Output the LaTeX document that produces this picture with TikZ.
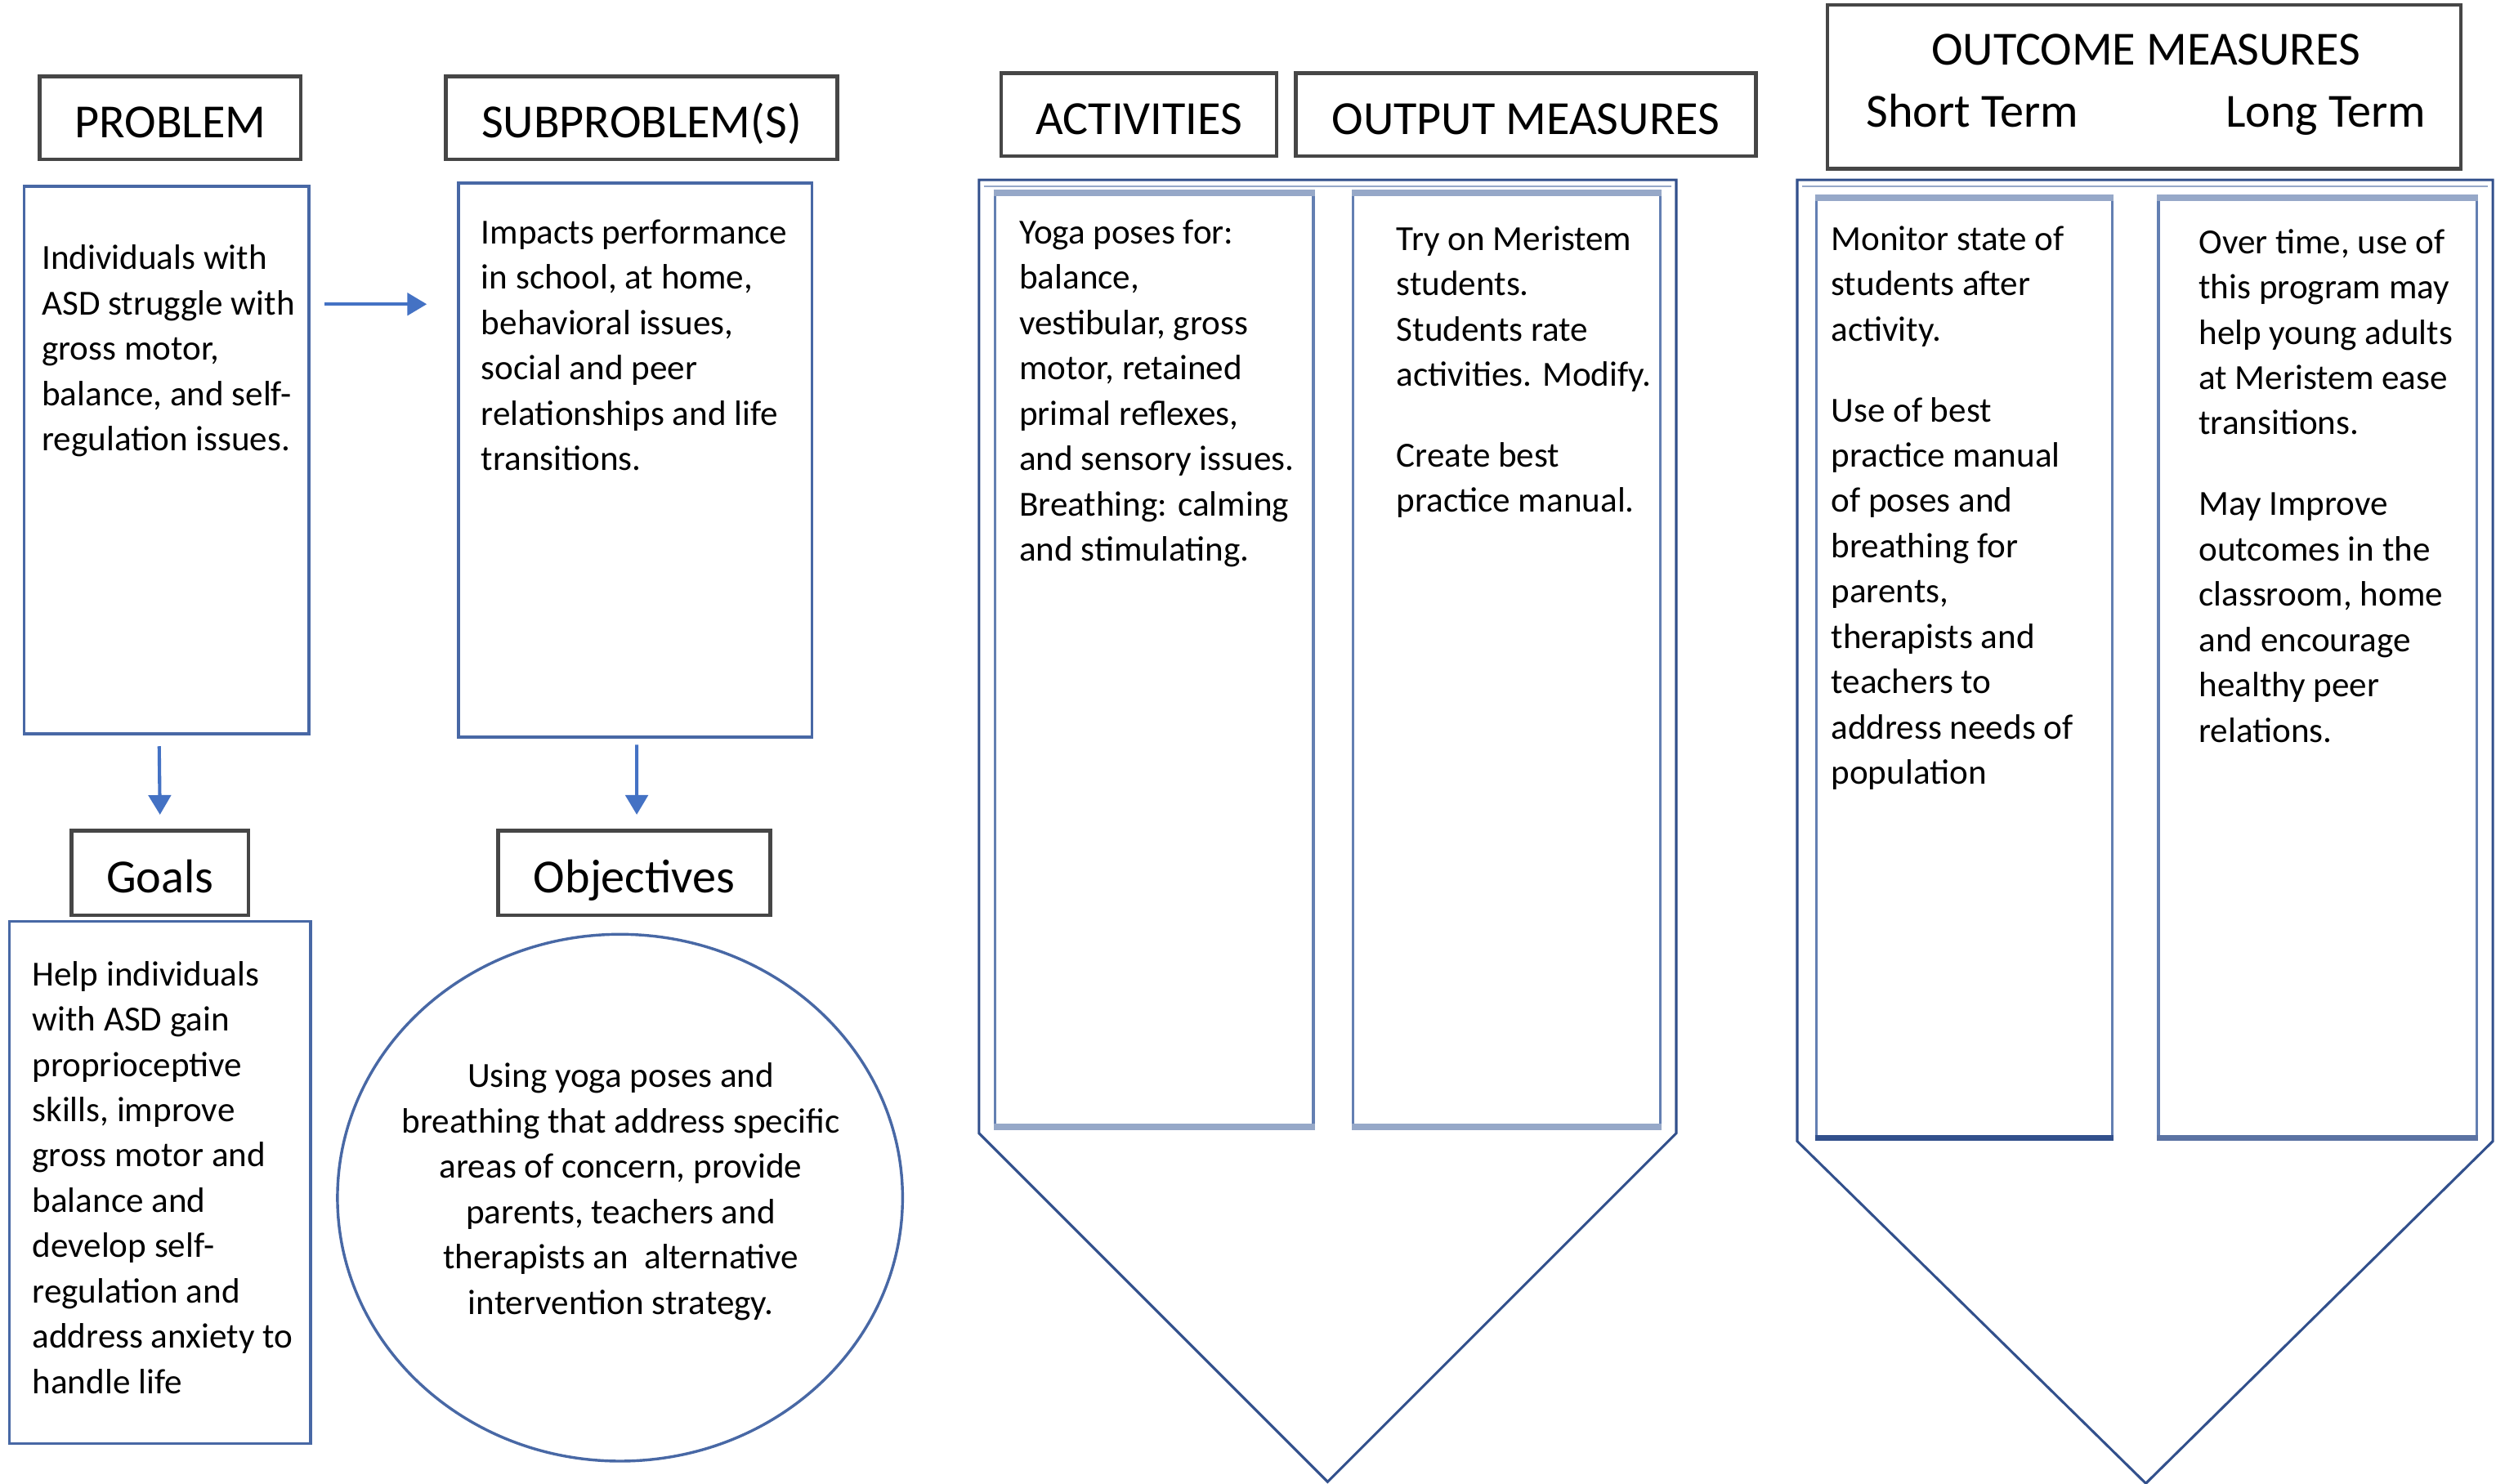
\documentclass[tikz,border=0pt]{standalone}
\usepackage{fontspec}
\setmainfont{Carlito}
\usetikzlibrary{shapes.geometric,arrows.meta}
\definecolor{hdrc}{RGB}{70,70,70}
\definecolor{bluec}{RGB}{72,104,165}
\definecolor{darkb}{RGB}{50,80,140}
\definecolor{lightb}{RGB}{150,168,200}
\definecolor{arrc}{RGB}{68,114,196}
\begin{document}
\begin{tikzpicture}[x=0.02cm, y=-0.02cm,
  wh/.style 2 args={minimum width=#1*0.02cm, minimum height=#2*0.02cm},
  hdr/.style={draw=hdrc, line width=1.3pt, fill=white, inner sep=0pt, text height=14.4pt, text depth=0pt, font=\fontsize{17}{20}\selectfont},
  bodybox/.style={draw=bluec, line width=1pt, inner sep=0pt},
  innerbox/.style={draw=bluec!85, line width=1pt, inner sep=0pt},
  band/.style={draw=lightb, line width=2.2pt},
  pent/.style={draw=darkb, line width=0.9pt},
  txt/.style={inner sep=0pt, anchor=north west, align=left, font=\fontsize{12.6}{16.2}\selectfont},
  ctxt/.style={inner sep=0pt, anchor=north, align=center, font=\fontsize{12.6}{16.2}\selectfont},
  htxt/.style={inner sep=0pt, text height=11pt, text depth=0pt, font=\fontsize{17}{20}\selectfont},
  arr/.style={draw=arrc, line width=1.2pt, -{Triangle[width=8pt,length=7pt]}, arrc}
]
\useasboundingbox (0,0) rectangle (1568,932);

% ---- left column: problem / goals
\node[hdr, wh={164}{52}] (ph) at (107,74) {PROBLEM};
\node[bodybox, wh={179}{344}] (pb) at (104.5,289) {};
\node[txt] (pbt) at (26,149) {\strut Individuals with\\ASD struggle with\\gross motor,\\balance, and self-\\regulation issues.};

\node[hdr, wh={111}{53}] (gh) at (100.5,548.5) {Goals};
\node[bodybox, wh={189}{328}] (gb) at (100.5,743) {};
\node[txt] (gbt) at (20,599) {\strut Help individuals\\with ASD gain\\proprioceptive\\skills, improve\\gross motor and\\balance and\\develop self-\\regulation and\\address anxiety to\\handle life};

% ---- subproblem / objectives
\node[hdr, wh={246}{52}] (sh) at (403,74) {SUBPROBLEM(S)};
\node[bodybox, wh={222}{348}] (sb) at (399,289) {};
\node[txt] (sbt) at (302,133) {\strut Impacts performance\\in school, at home,\\behavioral issues,\\social and peer\\relationships and life\\transitions.};

\node[hdr, wh={171}{53}] (oh) at (398.5,548.5) {Objectives};
\node[ellipse, draw=bluec, line width=1pt, inner sep=0pt, wh={355}{331}] (ob) at (389.5,752.5) {};
\node[ctxt] (obt) at (390,663) {\strut Using yoga poses and\\breathing that address specific\\areas of concern, provide\\parents, teachers and\\therapists an\ \ alternative\\intervention strategy.};

% ---- arrows
\draw[arr] ([shift={(9,75)}]pb.north east) -- ([shift={(-19,77)}]sb.north west);
\draw[arr] ([shift={(-4.5,7)}]pb.south) -- ([shift={(0,-9)}]gh.north);
\draw[arr] ([shift={(1,4)}]sb.south) -- ([shift={(1.5,-9)}]oh.north);

% ---- activities / output measures
\node[hdr, wh={173}{52}] (ah) at (715.5,72) {ACTIVITIES};
\node[hdr, wh={289}{52}] (mh) at (958.5,72) {OUTPUT MEASURES};
\draw[pent] (615,113) -- (1053,113) -- (1053,712) -- (834,931) -- (615,712) -- cycle;
\draw[draw=lightb, line width=0.8pt] (618,117) -- (1050,117);
\node[innerbox, wh={200}{585}] (ab) at (725,414.5) {};
\node[innerbox, wh={193}{585}] (mb) at (946.5,414.5) {};
\draw[band] (ab.north west) -- (ab.north east);
\draw[band] (ab.south west) -- (ab.south east);
\draw[band] (mb.north west) -- (mb.north east);
\draw[band] (mb.south west) -- (mb.south east);
\node[txt] (abt) at (640,133) {\strut Yoga poses for:\\balance,\\vestibular, gross\\motor, retained\\primal reflexes,\\and sensory issues.\\Breathing: calming\\and stimulating.};
\node[txt] (mbt) at (877,137) {\strut Try on Meristem\\students.\\Students rate\\activities. Modify.\\[12.7pt]\strut Create best\\practice manual.};

% ---- outcome measures
\node[hdr, wh={398}{103}] (uh) at (1347,54.5) {};
\node[htxt] (uht) at (1348,31) {OUTCOME MEASURES};
\node[htxt] (ust) at (1239,70) {Short Term};
\node[htxt] (ult) at (1461,70) {Long Term};
\draw[pent] (1129,113) -- (1566,113) -- (1566,717) -- (1348,932) -- (1129,717) -- cycle;
\draw[draw=lightb, line width=0.8pt] (1132,117) -- (1563,117);
\node[innerbox, wh={186}{589}] (stb) at (1234,419.5) {};
\node[innerbox, wh={200}{589}] (ltb) at (1456,419.5) {};
\draw[band] (stb.north west) -- (stb.north east);
\draw[draw=darkb, line width=2pt] (stb.south west) -- (stb.south east);
\draw[band] (ltb.north west) -- (ltb.north east);
\draw[draw=darkb!80, line width=2pt] (ltb.south west) -- (ltb.south east);
\node[txt] (stt) at (1150,137) {\strut Monitor state of\\students after\\activity.\\[12.7pt]\strut Use of best\\practice manual\\of poses and\\breathing for\\parents,\\therapists and\\teachers to\\address needs of\\population};
\node[txt] (ltt) at (1381,139) {\strut Over time, use of\\this program may\\help young adults\\at Meristem ease\\transitions.\\[12.7pt]\strut May Improve\\outcomes in the\\classroom, home\\and encourage\\healthy peer\\relations.};
\end{tikzpicture}
\end{document}
